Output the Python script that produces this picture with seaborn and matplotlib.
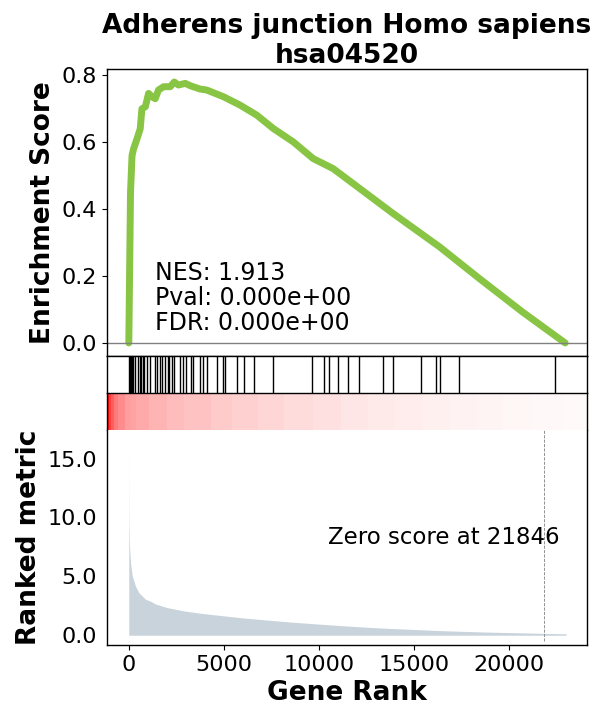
import numpy as np
import matplotlib
matplotlib.use("Agg")
import matplotlib.pyplot as plt
from matplotlib.ticker import MultipleLocator, FuncFormatter
from matplotlib.colors import Normalize
import seaborn as sns

# data
n_genes = 22950
zero_score = 21846
nes_text = "NES: 1.913\nPval: 0.000e+00\nFDR: 0.000e+00"
title = "Adherens junction Homo sapiens\nhsa04520"

es_rank = [0, 60, 90, 170, 250, 430, 600, 690, 870, 1040, 1220, 1390, 1560,
           1830, 2180, 2390, 2610, 2970, 3230, 3750, 4100, 4980, 5850, 6730,
           7600, 8650, 9700, 10750, 13900, 16350, 18450, 20720, 22950]
es_score = [0.0, 0.30, 0.45, 0.56, 0.58, 0.61, 0.64, 0.70, 0.706, 0.746, 0.736,
            0.73, 0.756, 0.766, 0.766, 0.78, 0.771, 0.776, 0.769, 0.759, 0.756,
            0.736, 0.711, 0.681, 0.641, 0.601, 0.551, 0.521, 0.387, 0.287,
            0.192, 0.092, 0.0]

hit_rank = [0, 42, 79, 121, 157, 194, 236, 341, 462, 567, 620, 745, 814, 955,
            1129, 1391, 1480, 1617, 1743, 1916, 2037, 2126, 2268, 2352, 2703,
            2845, 3018, 3265, 3370, 3753, 3927, 4136, 4661, 4945, 5081, 5711,
            6079, 6588, 7570, 9649, 10278, 10541, 11013, 11538, 12100, 13375,
            13900, 15391, 16178, 16352, 17365, 22441]

metric_rank = [0, 5, 15, 42, 95, 184, 357, 535, 882, 1129, 1407, 2005, 2877,
               3700, 4976, 6000, 7255, 8500, 9879, 11200, 12504, 13800, 15129,
               16400, 17753, 19000, 20378, 21846, 23003]
metric_value = [16.6, 12.0, 9.3, 7.4, 6.1, 5.0, 4.15, 3.6, 3.05, 2.9, 2.65,
                2.35, 2.07, 1.88, 1.65, 1.47, 1.29, 1.12, 0.96, 0.81, 0.68,
                0.57, 0.48, 0.39, 0.32, 0.26, 0.21, 0.16, 0.12]

sns.set_style("ticks", {"axes.edgecolor": "black", "xtick.color": "black",
                        "ytick.color": "black", "text.color": "black",
                        "axes.labelcolor": "black"})
plt.rcParams["axes.linewidth"] = 1.0
plt.rcParams["xtick.labelsize"] = 16
plt.rcParams["ytick.labelsize"] = 16
plt.rcParams["font.family"] = ["DejaVu Sans"]

fig = plt.figure(figsize=(5.97, 7.17), dpi=100)
left, width = 0.1792, 0.804
ax_es = fig.add_axes([left, 0.5035, width, 0.4003])
ax_hit = fig.add_axes([left, 0.4519, width, 0.0516], sharex=ax_es)
ax_cm = fig.add_axes([left, 0.4003, width, 0.0516])
ax_rk = fig.add_axes([left, 0.1004, width, 0.2999], sharex=ax_es)

# enrichment score
sns.lineplot(x=es_rank, y=es_score, ax=ax_es, color="#88C544", linewidth=5,
             estimator=None)
ax_es.axhline(0, color="gray", linewidth=1)
ax_es.text(0.1, 0.09, nes_text, transform=ax_es.transAxes, fontsize=17,
           linespacing=1.05)
ax_es.set_ylabel("Enrichment Score", fontsize=19, fontweight="bold")
ax_es.yaxis.set_major_locator(MultipleLocator(0.2))
ax_es.tick_params(axis="x", bottom=False, labelbottom=False)
ax_es.set_title(title, fontsize=19, fontweight="bold", pad=4)

# gene hits
ax_hit.vlines(hit_rank, 0, 1, color="black", linewidth=1)
ax_hit.set_ylim(0, 1)
ax_hit.spines["bottom"].set_visible(False)
ax_hit.tick_params(axis="both", which="both", bottom=False, left=False,
                   labelbottom=False, labelleft=False)

# colour bar of the ranking
edges = np.array(metric_rank, dtype=float)
vals = np.array(metric_value[:-1])[np.newaxis, :]
ax_cm.pcolormesh(edges, [0, 1], vals, cmap="bwr", norm=Normalize(-8, 8))
ax_cm.set_xlim(metric_rank[0], metric_rank[-1])
ax_cm.set_ylim(0, 1)
ax_cm.spines["bottom"].set_visible(False)
ax_cm.tick_params(axis="both", which="both", bottom=False, left=False,
                  labelbottom=False, labelleft=False)

# ranked metric
ax_rk.fill_between(metric_rank, metric_value, 0, color="#C9D3DB", linewidth=0)
ax_rk.axvline(zero_score, ymin=0.02, ymax=1, color="grey", linewidth=0.6,
              linestyle="--")
ax_rk.text(0.46, 0.5, "Zero score at %d" % zero_score, transform=ax_rk.transAxes,
           fontsize=16.5, va="center")
ax_rk.spines["top"].set_visible(False)
ax_rk.tick_params(axis="y", left=False)
ax_rk.yaxis.set_major_locator(MultipleLocator(5))
ax_rk.yaxis.set_major_formatter(FuncFormatter(lambda v, p: "{:.1f}".format(v)))
ax_rk.xaxis.set_major_locator(MultipleLocator(5000))
ax_rk.set_ylabel("Ranked metric", fontsize=19, fontweight="bold")
ax_rk.set_xlabel("Gene Rank", fontsize=19, fontweight="bold")

ax_es.set_xlim(-0.05 * n_genes, 1.05 * n_genes)

fig.savefig("out.png", dpi=100)
